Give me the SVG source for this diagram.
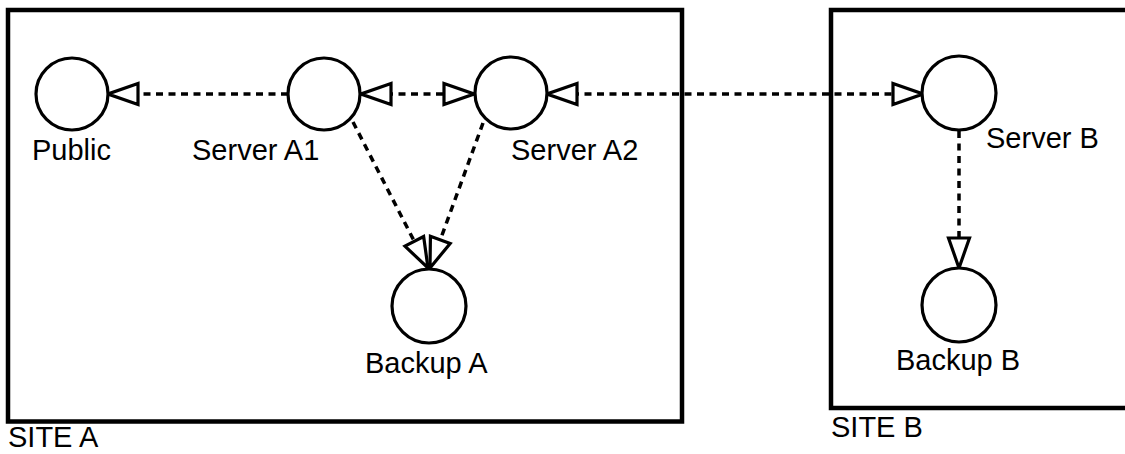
<svg xmlns="http://www.w3.org/2000/svg" width="1125" height="454" viewBox="0 0 1125 454">
  <style>
    .site { fill: none; stroke: #000; stroke-width: 4.5; }
    .node { fill: #fff; stroke: #000; stroke-width: 3.2; }
    .label { font-family: "Liberation Sans", Arial, sans-serif; font-size: 29px; fill: #000; }
    .link { fill: none; stroke: #000; stroke-width: 3.5; stroke-dasharray: 7 5.5; }
  </style>
  <defs>
    <marker id="arrowEnd" markerUnits="userSpaceOnUse" markerWidth="36" markerHeight="28" viewBox="-3 -14 36 28" refX="30" refY="0" orient="auto">
      <path d="M0,-10.5 L30,0 L0,10.5 Z" fill="#fff" stroke="#000" stroke-width="3.2" stroke-dasharray="none" stroke-linejoin="miter"/>
    </marker>
    <marker id="arrowStart" markerUnits="userSpaceOnUse" markerWidth="36" markerHeight="28" viewBox="-3 -14 36 28" refX="0" refY="0" orient="auto">
      <path d="M30,-10.5 L0,0 L30,10.5 Z" fill="#fff" stroke="#000" stroke-width="3.2" stroke-dasharray="none" stroke-linejoin="miter"/>
    </marker>
  </defs>

  <rect width="1125" height="454" fill="#fff"/>

  <!-- site boundaries -->
  <g id="site-a">
    <rect class="site" x="8" y="10" width="674" height="411.5"/>
    <text class="label" x="8" y="447">SITE A</text>
  </g>
  <g id="site-b">
    <rect class="site" x="831" y="10" width="330" height="398"/>
    <text class="label" x="831" y="437">SITE B</text>
  </g>

  <!-- connectors -->
  <g id="connectors">
    <line class="link" x1="288" y1="94" x2="108" y2="94" marker-end="url(#arrowEnd)"/>
    <line class="link" x1="361" y1="94" x2="474" y2="94" marker-start="url(#arrowStart)" marker-end="url(#arrowEnd)"/>
    <line class="link" x1="547" y1="94" x2="923" y2="94" marker-start="url(#arrowStart)" marker-end="url(#arrowEnd)"/>
    <line class="link" x1="353" y1="122" x2="428" y2="268" marker-end="url(#arrowEnd)"/>
    <line class="link" x1="483" y1="123" x2="430" y2="268" marker-end="url(#arrowEnd)"/>
    <line class="link" x1="959" y1="131" x2="959" y2="268" marker-end="url(#arrowEnd)"/>
  </g>

  <!-- nodes -->
  <g id="public">
    <circle class="node" cx="72" cy="94" r="36"/>
    <text class="label" x="32" y="160">Public</text>
  </g>
  <g id="server-a1">
    <circle class="node" cx="324" cy="94" r="36"/>
    <text class="label" x="192" y="160">Server A1</text>
  </g>
  <g id="server-a2">
    <circle class="node" cx="511" cy="93" r="36"/>
    <text class="label" x="511" y="160">Server A2</text>
  </g>
  <g id="backup-a">
    <circle class="node" cx="429" cy="306" r="37"/>
    <text class="label" x="365" y="373">Backup A</text>
  </g>
  <g id="server-b">
    <circle class="node" cx="959" cy="93" r="37"/>
    <text class="label" x="986" y="148">Server B</text>
  </g>
  <g id="backup-b">
    <circle class="node" cx="959" cy="305" r="37"/>
    <text class="label" x="896" y="370">Backup B</text>
  </g>
</svg>
